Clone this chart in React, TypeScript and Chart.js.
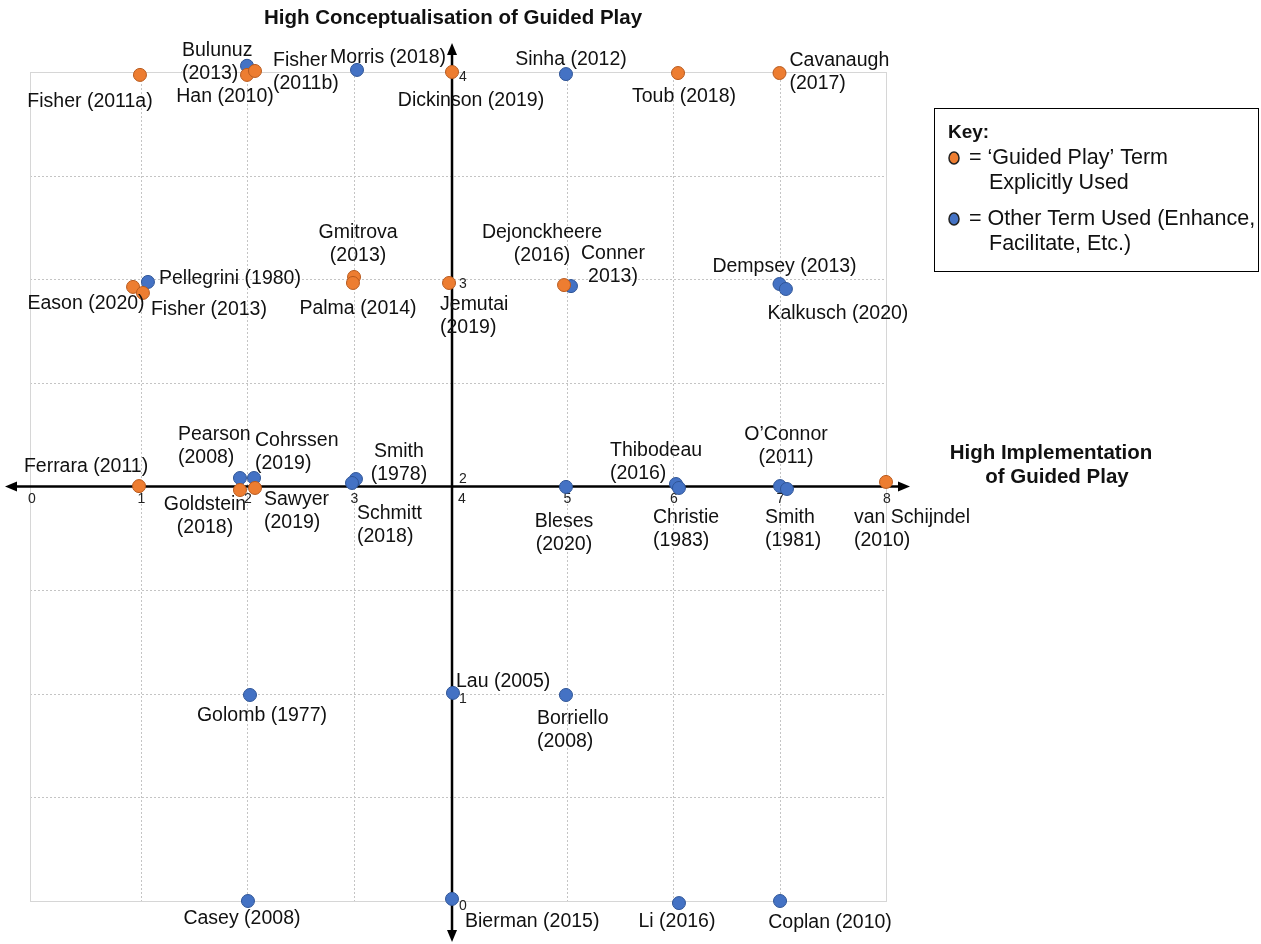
import { useEffect, useRef } from "react";
import { Chart, registerables } from "chart.js";

Chart.register(...registerables);

// ---------- data ----------
const ORANGE_LABELS = [
  "Fisher (2011a)", "Han (2010)", "Fisher\n(2011b)", "Dickinson (2019)", "Toub (2018)",
  "Cavanaugh\n(2017)", "Eason (2020)", "Fisher (2013)", "Gmitrova\n(2013)", "Palma (2014)",
  "Jemutai\n(2019)", "Dejonckheere\n(2016)", "Ferrara (2011)", "Goldstein\n(2018)",
  "Sawyer\n(2019)", "van Schijndel\n(2010)",
];
const ORANGE_X = [0.995, 2.0, 2.075, 3.925, 6.047, 7.0, 0.93, 1.023, 3.005, 2.995, 3.897, 4.977, 0.986, 1.934, 2.075, 8.0];
const ORANGE_Y = [3.986, 3.986, 4.005, 4.0, 3.995, 3.995, 2.963, 2.934, 3.011, 2.982, 2.982, 2.972, 2.002, 1.983, 1.993, 2.022];

const BLUE_LABELS = [
  "Bulunuz\n(2013)", "Morris (2018)", "Sinha (2012)", "Pellegrini (1980)", "Conner\n2013)",
  "Dempsey (2013)", "Kalkusch (2020)", "Pearson\n(2008)", "Cohrssen\n(2019)", "Smith\n(1978)",
  "Schmitt\n(2018)", "Bleses\n(2020)", "Thibodeau\n(2016)", "Christie\n(1983)", "O’Connor\n(2011)",
  "Smith\n(1981)", "Golomb (1977)", "Lau (2005)", "Borriello\n(2008)", "Casey (2008)",
  "Bierman (2015)", "Li (2016)", "Coplan (2010)",
];
const BLUE_X = [2.0, 3.033, 4.995, 1.07, 5.042, 7.0, 7.06, 1.934, 2.066, 3.023, 2.986, 4.995, 6.028, 6.056, 7.005, 7.07, 2.028, 3.934, 4.995, 2.009, 3.925, 6.056, 7.005];
const BLUE_Y = [4.03, 4.01, 3.99, 2.987, 2.967, 2.977, 2.953, 2.041, 2.041, 2.036, 2.017, 1.998, 2.012, 1.993, 2.002, 1.988, 0.994, 1.004, 0.994, 0.0, 0.01, -0.01, 0.0];

const X_TICKS = [0, 1, 2, 3, 4, 5, 6, 7, 8];
const Y_TICKS = [0, 1, 2, 3, 4];
const Y_GRID = [0, 0.5, 1, 1.5, 2, 2.5, 3, 3.5, 4];
const AXIS_CROSS_X = 3.925;
const AXIS_CROSS_Y = 2;

const Y_AXIS_TITLE = "High Conceptualisation of Guided Play";
const X_AXIS_TITLE = ["High Implementation", "of Guided Play"];
const KEY_TITLE = "Key:";
const KEY_ORANGE = ["= ‘Guided Play’ Term", "Explicitly Used"];
const KEY_BLUE = ["= Other Term Used (Enhance,", "Facilitate, Etc.)"];

// ---------- label layout (pixel offsets from the point) ----------
const LABEL_LAYOUT: Record<string, [number, number, CanvasTextAlign]> = {
  "Fisher (2011a)": [-50, 27, "center"],
  "Han (2010)": [-22, 22, "center"],
  "Fisher\n(2011b)": [18, -10, "left"],
  "Dickinson (2019)": [19, 29, "center"],
  "Toub (2018)": [6, 24, "center"],
  "Cavanaugh\n(2017)": [10, -12, "left"],
  "Eason (2020)": [-47, 17, "center"],
  "Fisher (2013)": [8, 17, "left"],
  "Gmitrova\n(2013)": [4, -44, "center"],
  "Palma (2014)": [5, 26, "center"],
  "Jemutai\n(2019)": [-9, 22, "left"],
  "Dejonckheere\n(2016)": [-22, -52, "center"],
  "Ferrara (2011)": [-53, -19, "center"],
  "Goldstein\n(2018)": [-35, 15, "center"],
  "Sawyer\n(2019)": [9, 12, "left"],
  "van Schijndel\n(2010)": [-32, 36, "left"],
  "Bulunuz\n(2013)": [-65, -15, "left"],
  "Morris (2018)": [31, -12, "center"],
  "Sinha (2012)": [5, -14, "center"],
  "Pellegrini (1980)": [11, -3, "left"],
  "Conner\n2013)": [42, -32, "center"],
  "Dempsey (2013)": [5, -17, "center"],
  "Kalkusch (2020)": [52, 25, "center"],
  "Pearson\n(2008)": [-62, -43, "left"],
  "Cohrssen\n(2019)": [1, -37, "left"],
  "Smith\n(1978)": [43, -27, "center"],
  "Schmitt\n(2018)": [5, 31, "left"],
  "Bleses\n(2020)": [-2, 35, "center"],
  "Thibodeau\n(2016)": [-66, -33, "left"],
  "Christie\n(1983)": [-26, 30, "left"],
  "O’Connor\n(2011)": [6, -51, "center"],
  "Smith\n(1981)": [-22, 29, "left"],
  "Golomb (1977)": [12, 21, "center"],
  "Lau (2005)": [3, -11, "left"],
  "Borriello\n(2008)": [-29, 24, "left"],
  "Casey (2008)": [-6, 18, "center"],
  "Bierman (2015)": [13, 23, "left"],
  "Li (2016)": [-2, 19, "center"],
  "Coplan (2010)": [50, 22, "center"],
};

const FONT = '"Liberation Sans", Arial, Helvetica, sans-serif';
const ORANGE = "#ED7D31";
const ORANGE_EDGE = "#B85A1E";
const BLUE = "#4472C4";
const BLUE_EDGE = "#2F5597";

const quadrantPlugin = {
  id: "quadrant",
  beforeDatasetsDraw(chart: any) {
    const { ctx, chartArea: a, scales } = chart;
    const xs = scales.x;
    const ys = scales.y;
    const frameL = Math.round(a.left) - 4;
    ctx.save();
    // dotted grid
    ctx.strokeStyle = "#c4c4c4";
    ctx.lineWidth = 1;
    ctx.setLineDash([2, 2]);
    for (const v of X_TICKS) {
      if (v === X_TICKS[0] || v === X_TICKS[X_TICKS.length - 1] || v === 4) continue;
      const px = Math.round(xs.getPixelForValue(v)) + 0.5;
      ctx.beginPath(); ctx.moveTo(px, a.top); ctx.lineTo(px, a.bottom); ctx.stroke();
    }
    for (const v of Y_GRID) {
      if (v === Y_GRID[0] || v === Y_GRID[Y_GRID.length - 1] || v === AXIS_CROSS_Y) continue;
      const py = Math.round(ys.getPixelForValue(v)) + 0.5;
      ctx.beginPath(); ctx.moveTo(frameL, py); ctx.lineTo(a.right, py); ctx.stroke();
    }
    ctx.setLineDash([]);
    ctx.strokeStyle = "#d6d6d6";
    ctx.strokeRect(frameL + 0.5, Math.round(a.top) + 0.5, Math.round(a.right) - frameL, Math.round(a.bottom - a.top));

    // axes with arrows
    const ax = xs.getPixelForValue(AXIS_CROSS_X);
    const ay = ys.getPixelForValue(AXIS_CROSS_Y);
    const xL = frameL - 25, xR = a.right + 24;
    const yT = a.top - 29, yB = a.bottom + 41;
    ctx.strokeStyle = "#000";
    ctx.fillStyle = "#000";
    ctx.lineWidth = 2.5;
    ctx.beginPath(); ctx.moveTo(xL + 8, ay); ctx.lineTo(xR - 8, ay); ctx.stroke();
    ctx.beginPath(); ctx.moveTo(ax, yT + 8); ctx.lineTo(ax, yB - 8); ctx.stroke();
    const tri = (p: number[][]) => { ctx.beginPath(); ctx.moveTo(p[0][0], p[0][1]); ctx.lineTo(p[1][0], p[1][1]); ctx.lineTo(p[2][0], p[2][1]); ctx.closePath(); ctx.fill(); };
    tri([[xL, ay], [xL + 12, ay - 5], [xL + 12, ay + 5]]);
    tri([[xR, ay], [xR - 12, ay - 5], [xR - 12, ay + 5]]);
    tri([[ax, yT], [ax - 5, yT + 12], [ax + 5, yT + 12]]);
    tri([[ax, yB], [ax - 5, yB - 12], [ax + 5, yB - 12]]);

    // tick labels
    ctx.font = `14px ${FONT}`;
    ctx.fillStyle = "#222";
    ctx.textAlign = "center";
    ctx.textBaseline = "middle";
    for (const v of X_TICKS) {
      const off = v === X_TICKS[0] ? -2 : v === 4 ? 2 : 1;
      ctx.fillText(String(v), xs.getPixelForValue(v) + off, ay + 13);
    }
    ctx.textAlign = "left";
    for (const v of Y_TICKS) {
      const off = v === AXIS_CROSS_Y ? -7 : 5;
      ctx.fillText(String(v), ax + 7, ys.getPixelForValue(v) + off);
    }
    ctx.restore();
  },
  afterDatasetsDraw(chart: any) {
    const { ctx, scales } = chart;
    const xs = scales.x;
    const ys = scales.y;
    ctx.save();
    ctx.fillStyle = "#111";
    ctx.font = `19.5px ${FONT}`;
    ctx.textBaseline = "middle";
    const drawSeries = (labels: string[], X: number[], Y: number[]) => {
      labels.forEach((lab, i) => {
        const px = xs.getPixelForValue(X[i]);
        const py = ys.getPixelForValue(Y[i]);
        const [dx, dy, align] = LABEL_LAYOUT[lab] || [0, 20, "center"];
        ctx.textAlign = align;
        lab.split("\n").forEach((line, k) => ctx.fillText(line, px + dx, py + dy + k * 23));
      });
    };
    drawSeries(ORANGE_LABELS, ORANGE_X, ORANGE_Y);
    drawSeries(BLUE_LABELS, BLUE_X, BLUE_Y);

    // titles
    ctx.font = `bold 20.5px ${FONT}`;
    ctx.textAlign = "center";
    ctx.fillStyle = "#111";
    ctx.fillText(Y_AXIS_TITLE, 453, 18);
    ctx.fillText(X_AXIS_TITLE[0], 1051, 453);
    ctx.fillText(X_AXIS_TITLE[1], 1057, 477);

    // key box
    ctx.strokeStyle = "#000";
    ctx.lineWidth = 1;
    ctx.strokeRect(934.5, 108.5, 324, 163);
    ctx.textAlign = "left";
    ctx.font = `bold 19px ${FONT}`;
    ctx.fillText(KEY_TITLE, 948, 133);
    ctx.font = `21.5px ${FONT}`;
    const dot = (cx: number, cy: number, fill: string, edge: string) => {
      ctx.beginPath(); ctx.ellipse(cx, cy, 5, 6, 0, 0, Math.PI * 2);
      ctx.fillStyle = fill; ctx.fill(); ctx.lineWidth = 1.5; ctx.strokeStyle = edge; ctx.stroke();
    };
    dot(954, 158, ORANGE, "#222");
    dot(954, 219, BLUE, "#222");
    ctx.fillStyle = "#111";
    ctx.fillText(KEY_ORANGE[0], 969, 158);
    ctx.fillText(KEY_ORANGE[1], 989, 183);
    ctx.fillText(KEY_BLUE[0], 969, 219);
    ctx.fillText(KEY_BLUE[1], 989, 244);
    ctx.restore();
  },
};

export default function App() {
  const ref = useRef<HTMLCanvasElement>(null);
  useEffect(() => {
    const canvas = ref.current;
    if (!canvas) return;
    const chart = new Chart(canvas, {
      type: "scatter",
      data: {
        datasets: [
          {
            label: "Guided Play term",
            data: ORANGE_X.map((x, i) => ({ x, y: ORANGE_Y[i] })),
            backgroundColor: ORANGE,
            borderColor: ORANGE_EDGE,
            borderWidth: 1,
            pointRadius: 6.5,
            clip: false,
          } as any,
          {
            label: "Other term",
            data: BLUE_X.map((x, i) => ({ x, y: BLUE_Y[i] })),
            backgroundColor: BLUE,
            borderColor: BLUE_EDGE,
            borderWidth: 1,
            pointRadius: 6.5,
            clip: false,
          } as any,
        ],
      },
      options: {
        animation: false,
        responsive: false,
        events: [],
        layout: { padding: { left: 34, right: 375, top: 72, bottom: 43 } },
        plugins: { legend: { display: false }, tooltip: { enabled: false } },
        scales: {
          x: { type: "linear", min: 0, max: 8, display: false },
          y: { type: "linear", min: 0, max: 4, display: false },
        },
      },
      plugins: [quadrantPlugin],
    });
    return () => chart.destroy();
  }, []);
  return (
    <div style={{ position: "absolute", left: 0, top: 0, width: 1261, height: 944, background: "#fff" }}>
      <canvas ref={ref} width={1261} height={944} style={{ display: "block" }} />
    </div>
  );
}
